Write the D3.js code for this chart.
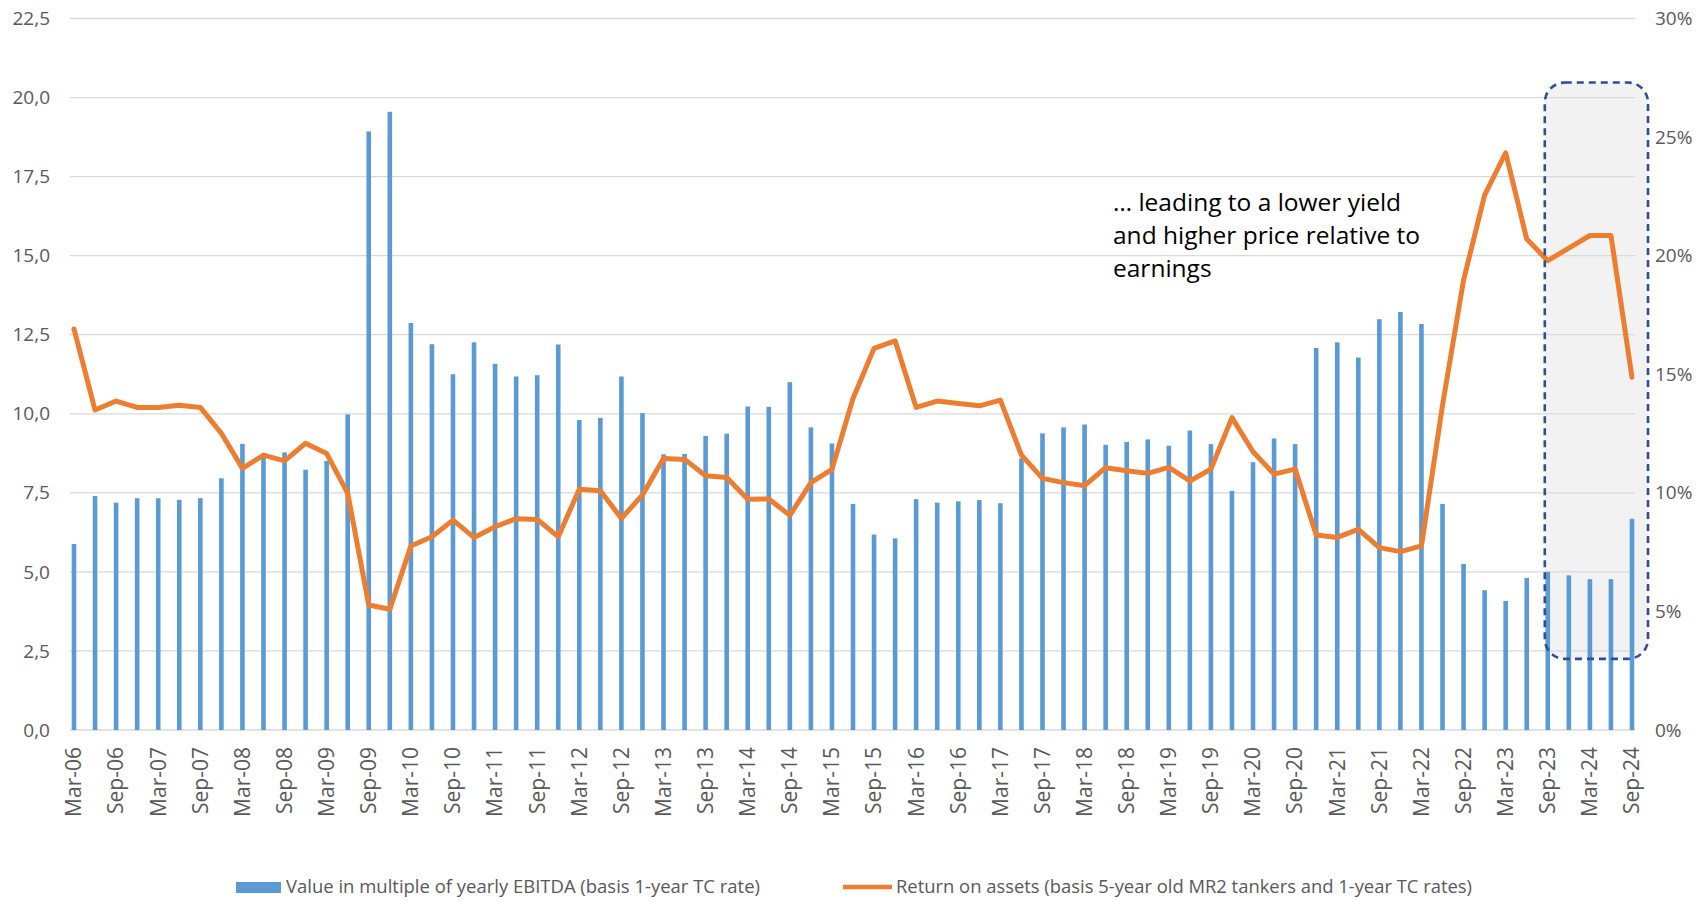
<!DOCTYPE html>
<html><head><meta charset="utf-8">
<script src="https://cdn.jsdelivr.net/npm/d3@7/dist/d3.min.js"></script>
<style>html,body{margin:0;padding:0;background:#fff;}svg{display:block;}</style>
</head><body>
<svg id="c" width="1706" height="902"></svg>
<script>
const categories = ["Mar-06","Jun-06","Sep-06","Dec-06","Mar-07","Jun-07","Sep-07","Dec-07",
"Mar-08","Jun-08","Sep-08","Dec-08","Mar-09","Jun-09","Sep-09","Dec-09",
"Mar-10","Jun-10","Sep-10","Dec-10","Mar-11","Jun-11","Sep-11","Dec-11",
"Mar-12","Jun-12","Sep-12","Dec-12","Mar-13","Jun-13","Sep-13","Dec-13",
"Mar-14","Jun-14","Sep-14","Dec-14","Mar-15","Jun-15","Sep-15","Dec-15",
"Mar-16","Jun-16","Sep-16","Dec-16","Mar-17","Jun-17","Sep-17","Dec-17",
"Mar-18","Jun-18","Sep-18","Dec-18","Mar-19","Jun-19","Sep-19","Dec-19",
"Mar-20","Jun-20","Sep-20","Dec-20","Mar-21","Jun-21","Sep-21","Dec-21",
"Mar-22","Jun-22","Sep-22","Dec-22","Mar-23","Jun-23","Sep-23","Dec-23",
"Mar-24","Jun-24","Sep-24"];
const ebitdaMultiple = [5.88,7.40,7.19,7.33,7.33,7.28,7.33,7.96,
9.05,8.65,8.78,8.23,8.51,9.98,18.93,19.55,
12.87,12.20,11.25,12.26,11.58,11.18,11.22,12.19,
9.80,9.87,11.18,10.02,8.72,8.73,9.30,9.37,
10.23,10.22,11.00,9.57,9.06,7.15,6.18,6.06,
7.30,7.19,7.23,7.27,7.17,8.59,9.38,9.57,
9.66,9.02,9.11,9.19,8.99,9.47,9.04,7.56,
8.47,9.22,9.04,12.08,12.26,11.78,12.99,13.22,
12.84,7.15,5.25,4.42,4.08,4.81,5.00,4.89,
4.77,4.77,6.68];
const returnOnAssets = [16.91,13.49,13.87,13.60,13.60,13.69,13.60,12.51,
11.03,11.59,11.35,12.09,11.66,9.98,5.27,5.09,
7.76,8.15,8.85,8.12,8.57,8.91,8.88,8.15,
10.15,10.09,8.92,9.91,11.45,11.41,10.72,10.65,
9.73,9.74,9.05,10.43,10.99,13.98,16.09,16.41,
13.60,13.87,13.77,13.67,13.91,11.59,10.61,10.43,
10.30,11.06,10.93,10.82,11.07,10.50,11.00,13.17,
11.73,10.79,11.00,8.22,8.12,8.46,7.69,7.52,
7.76,13.70,18.97,22.55,24.34,20.70,19.79,20.32,
20.85,20.85,14.87];
const leftTicks = [0,2.5,5,7.5,10,12.5,15,17.5,20,22.5];
const rightTicks = [0,5,10,15,20,25,30];
const xTickLabels = categories.filter((d,i)=>i%2===0);
const seriesNames = ["Value in multiple of yearly EBITDA (basis 1-year TC rate)",
                     "Return on assets (basis 5-year old MR2 tankers and 1-year TC rates)"];
const annotationLines = ["\u2026 leading to a lower yield","and higher price relative to","earnings"];
const highlight = {from:"Sep-23", to:"Sep-24", top:27.3, bottom:3};

const svg = d3.select("#c");
const font = "'Open Sans', 'Noto Sans', sans-serif";
const plotL = 70, plotR = 1635, plotT = 18.5, plotB = 730;
const x = d3.scalePoint().domain(categories).range([74, 1632]);
const yL = d3.scaleLinear().domain([0,22.5]).range([plotB, plotT]);
const yR = d3.scaleLinear().domain([0,30]).range([plotB, plotT]);

// highlight box fill
const bx0 = x(highlight.from)-3, bx1 = x(highlight.to)+16;
const by0 = yR(highlight.top), by1 = yR(highlight.bottom);
svg.append("rect").attr("x",bx0).attr("y",by0).attr("width",bx1-bx0).attr("height",by1-by0)
  .attr("rx",20).attr("ry",20).attr("fill","#f2f2f2");

// gridlines
svg.append("g").selectAll("line").data(leftTicks).join("line")
  .attr("x1",plotL).attr("x2",plotR).attr("y1",d=>yL(d)).attr("y2",d=>yL(d))
  .attr("stroke","#d9d9d9").attr("stroke-width",1.3);

// left axis labels
svg.append("g").selectAll("text").data(leftTicks).join("text")
  .attr("x",50).attr("y",d=>yL(d)).attr("dy","0.35em").attr("text-anchor","end")
  .attr("font-family",font).attr("font-size",19).attr("fill","#595959")
  .text(d=>d3.format(".1f")(d).replace(".",","));
// right axis labels
svg.append("g").selectAll("text").data(rightTicks).join("text")
  .attr("x",1655).attr("y",d=>yR(d)).attr("dy","0.35em").attr("text-anchor","start")
  .attr("font-family",font).attr("font-size",19).attr("fill","#595959")
  .text(d=>d+"%");

// x labels
svg.append("g").selectAll("text").data(xTickLabels).join("text")
  .attr("transform",d=>`translate(${x(d)},747) rotate(-90)`)
  .attr("dy","0.35em").attr("text-anchor","end")
  .attr("font-family",font).attr("font-size",21).attr("fill","#595959")
  .text(d=>d);

// bars
const bw = 4.6;
svg.append("g").selectAll("rect").data(categories).join("rect")
  .attr("x",d=>x(d)-bw/2).attr("width",bw)
  .attr("y",(d,i)=>yL(ebitdaMultiple[i])).attr("height",(d,i)=>plotB-yL(ebitdaMultiple[i]))
  .attr("fill","#5b9bd5");

// line
const line = d3.line().x(d=>x(d.c)).y(d=>yR(d.v));
svg.append("path").datum(categories.map((c,i)=>({c,v:returnOnAssets[i]})))
  .attr("d",line).attr("fill","none").attr("stroke","#ed7d31").attr("stroke-width",5)
  .attr("stroke-linejoin","round").attr("stroke-linecap","round");

// highlight dashed border
svg.append("rect").attr("x",bx0).attr("y",by0).attr("width",bx1-bx0).attr("height",by1-by0)
  .attr("rx",20).attr("ry",20).attr("fill","none").attr("stroke","#2f4e96")
  .attr("stroke-width",2.6).attr("stroke-dasharray","7,5");

// annotation
svg.append("g").selectAll("text").data(annotationLines).join("text")
  .attr("x",1113).attr("y",(d,i)=>211+i*33)
  .attr("font-family",font).attr("font-size",24.5).attr("fill","#000")
  .text(d=>d);

// legend
const lg = svg.append("g");
lg.append("rect").attr("x",236).attr("y",882).attr("width",45).attr("height",11).attr("fill","#5b9bd5");
lg.append("text").attr("x",286).attr("y",887).attr("dy","0.35em")
  .attr("font-family",font).attr("font-size",18.5).attr("fill","#595959")
  .attr("textLength",474).attr("lengthAdjust","spacingAndGlyphs").text(seriesNames[0]);
lg.append("line").attr("x1",843).attr("x2",892).attr("y1",887).attr("y2",887)
  .attr("stroke","#ed7d31").attr("stroke-width",4.6);
lg.append("text").attr("x",896).attr("y",887).attr("dy","0.35em")
  .attr("font-family",font).attr("font-size",18.5).attr("fill","#595959")
  .attr("textLength",576).attr("lengthAdjust","spacingAndGlyphs").text(seriesNames[1]);
</script>
</body></html>
